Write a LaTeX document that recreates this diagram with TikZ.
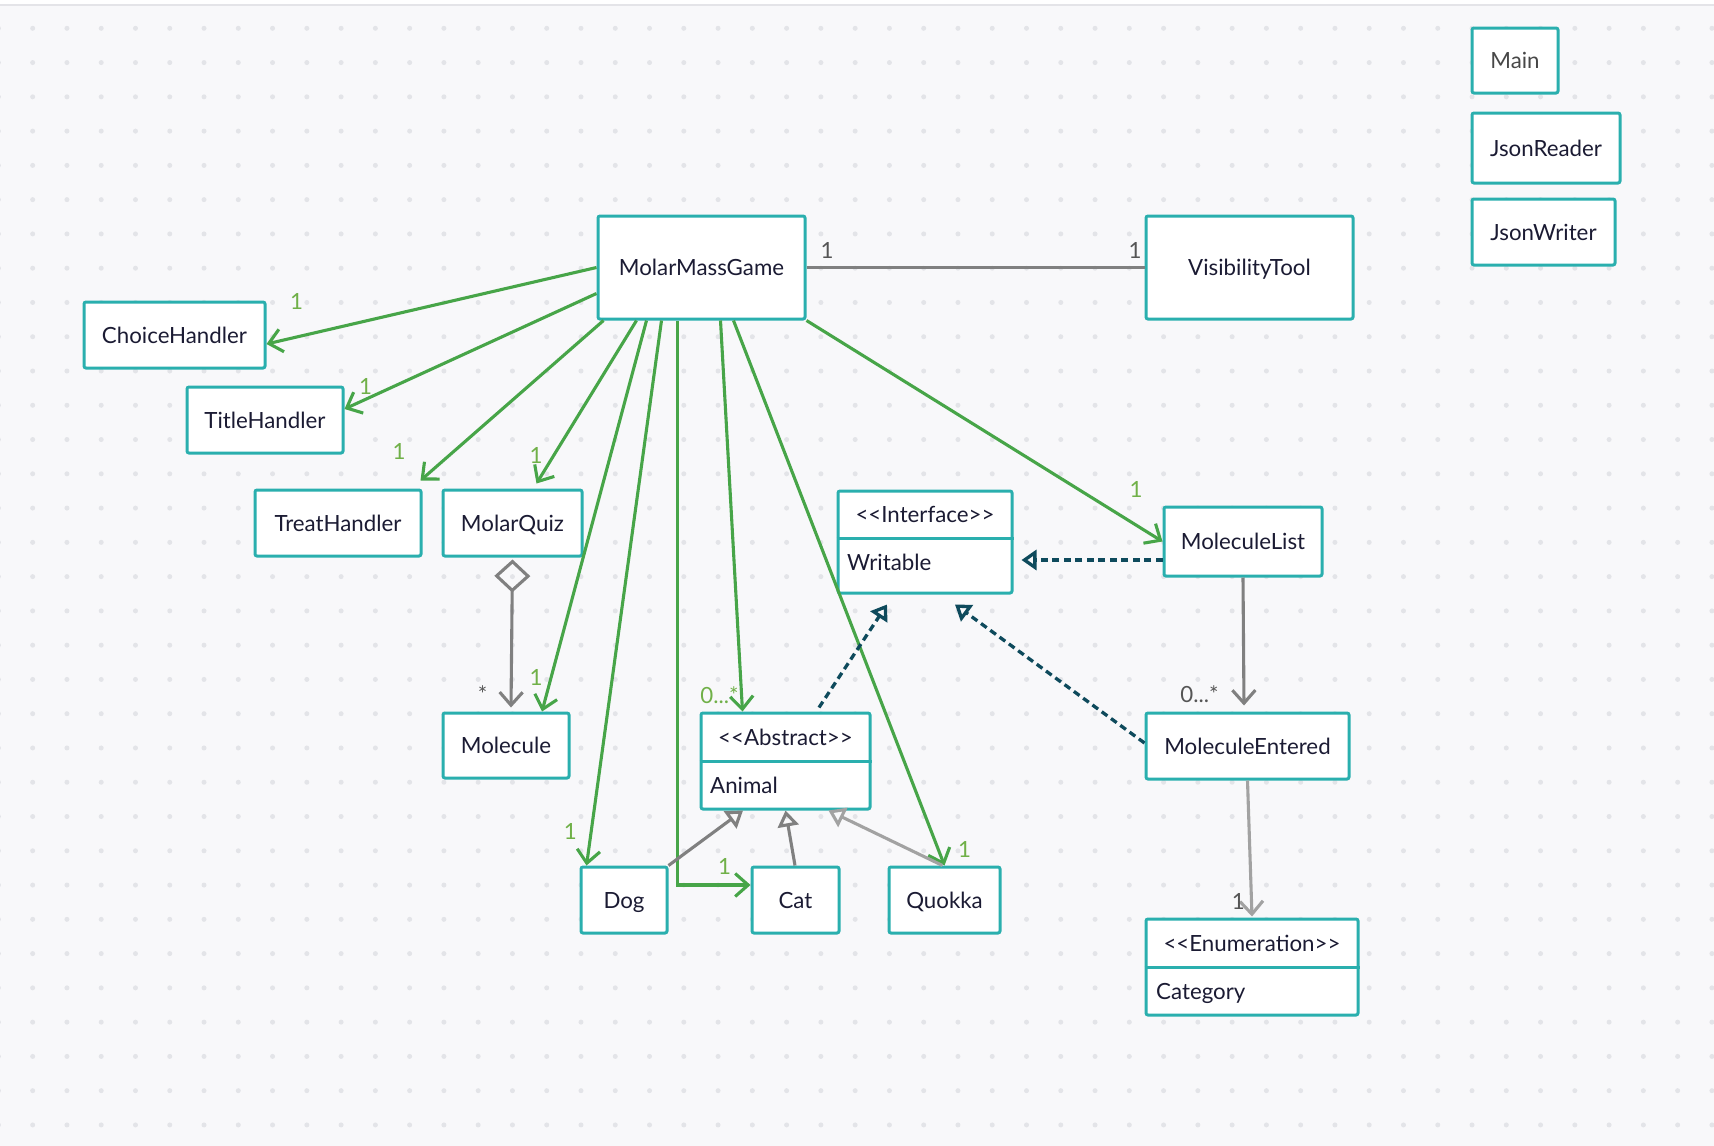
\documentclass[tikz,border=0pt]{standalone}
\usepackage{fontspec}
\setmainfont{Lato}
\usetikzlibrary{arrows.meta}

\definecolor{canvasbg}{HTML}{F8F8FA}
\definecolor{gridmark}{HTML}{E3E4E8}
\definecolor{rulegray}{HTML}{E4E4E8}
\definecolor{boxedge}{HTML}{2AAFAE}
\definecolor{ink}{HTML}{1B1B33}
\definecolor{mainink}{HTML}{474747}
\definecolor{depgreen}{HTML}{47A548}
\definecolor{multgreen}{HTML}{70B048}
\definecolor{linkgray}{HTML}{808080}
\definecolor{linklight}{HTML}{A2A2A2}
\definecolor{labelgray}{HTML}{555555}
\definecolor{realblue}{HTML}{0E4A5C}

\begin{document}
\begin{tikzpicture}[x=1pt,y=-1pt,
  every node/.style={font=\fontsize{22.3pt}{26pt}\selectfont, inner sep=0pt,
    text height=16pt, text depth=0pt},
  cls/.style={draw=boxedge, fill=white, line width=3pt, rounded corners=2pt, text=ink},
  divider/.style={draw=boxedge, line width=3pt},
  txt/.style={text=ink},
  mult/.style={text=multgreen},
  multgray/.style={text=labelgray},
  barb/.tip={Straight Barb[length=13pt,width=23pt]},
  dep/.style={draw=depgreen, line width=3.1pt, -barb},
  assoc/.style={draw=linkgray, line width=3.1pt},
  assocl/.style={draw=linklight, line width=3.1pt},
  gen/.style={draw=linkgray, line width=3.1pt, -{Triangle[open,length=16pt,width=21pt]}},
  genl/.style={draw=linklight, line width=3.1pt, -{Triangle[open,length=16pt,width=21pt]}},
  real/.style={draw=realblue, line width=3.3pt, dash pattern=on 7pt off 4.5pt,
    -{Triangle[open,length=15pt,width=20pt]}}
]
\useasboundingbox (0,0) rectangle (1714,1146);

% canvas and dotted grid
\fill[white] (0,0) rectangle (1714,6);
\fill[canvasbg] (0,6) rectangle (1714,1146);
\draw[rulegray, line width=2pt] (0,5) -- (1714,5);
\foreach \i in {0,...,50}
  \foreach \j in {0,...,32}
    \fill[gridmark] ({-1.6+\i*34.27},{28.3+\j*34.27}) circle (2.5pt);

% classes
\node[cls, minimum width=86pt,  minimum height=65pt]  (main)     at (1515,60.5)   {\textcolor{mainink}{Main}};
\node[cls, minimum width=148pt, minimum height=70pt]  (jreader)  at (1546,148)    {JsonReader};
\node[cls, minimum width=143pt, minimum height=66pt]  (jwriter)  at (1543.5,232)  {JsonWriter};
\node[cls, minimum width=207pt, minimum height=103pt] (mmg)      at (701.5,267.5) {MolarMassGame};
\node[cls, minimum width=207pt, minimum height=103pt] (vis)      at (1249.5,267.5){VisibilityTool};
\node[cls, minimum width=181pt, minimum height=66pt]  (choice)   at (174.5,335)   {ChoiceHandler};
\node[cls, minimum width=156pt, minimum height=66pt]  (title)    at (265,420)     {TitleHandler};
\node[cls, minimum width=166pt, minimum height=66pt]  (treat)    at (338,523)     {TreatHandler};
\node[cls, minimum width=139pt, minimum height=66pt]  (quiz)     at (512.5,523)   {MolarQuiz};
\node[cls, minimum width=158pt, minimum height=69pt]  (mlist)    at (1243,541.5)  {MoleculeList};
\node[cls, minimum width=126pt, minimum height=65pt]  (molecule) at (506,745.5)   {Molecule};
\node[cls, minimum width=203pt, minimum height=66pt]  (mentered) at (1247.5,746)  {MoleculeEntered};
\node[cls, minimum width=86pt,  minimum height=66pt]  (dog)      at (624,900)     {Dog};
\node[cls, minimum width=87pt,  minimum height=66pt]  (cat)      at (795.5,900)   {Cat};
\node[cls, minimum width=111pt, minimum height=66pt]  (quokka)   at (944.5,900)   {Quokka};

% classes with a stereotype compartment
\node[cls, minimum width=174pt, minimum height=102pt] (writable) at (925,542) {};
\draw[divider] ([yshift=4pt]writable.west) -- ([yshift=4pt]writable.east);
\node[txt] (writable-st) at (925,514.5) {{<}{<}Interface{>}{>}};
\node[txt, anchor=west] (writable-nm) at (847,562.5) {Writable};

\node[cls, minimum width=169pt, minimum height=96pt] (animal) at (785.5,761) {};
\draw[divider] (animal.west) -- (animal.east);
\node[txt] (animal-st) at (785.5,737) {{<}{<}Abstract{>}{>}};
\node[txt, anchor=west] (animal-nm) at (710,785) {Animal};

\node[cls, minimum width=212pt, minimum height=96pt] (category) at (1252,967) {};
\draw[divider] (category.west) -- (category.east);
\node[txt] (category-st) at (1252,943) {{<}{<}Enumeration{>}{>}};
\node[txt, anchor=west] (category-nm) at (1156,991) {Category};

% associations held by MolarMassGame
\draw[dep] (mmg.west) -- ([yshift=-9pt]choice.east);
\draw[dep] ([yshift=-26pt]mmg.west) -- ([yshift=11pt]title.east);
\draw[dep] ([xshift=7pt]mmg.south west) -- ([xshift=-2pt,yshift=8pt]treat.north east);
\draw[dep] ([xshift=40pt]mmg.south west) -- ([xshift=24pt,yshift=5pt]quiz.north);
\draw[dep] ([xshift=50pt]mmg.south west) -- ([xshift=36pt]molecule.north);
\draw[dep] ([xshift=65pt]mmg.south west) -- ([xshift=7pt]dog.north west);
\draw[dep] ([xshift=81pt]mmg.south west) |- ([yshift=15pt]cat.west);
\draw[dep] ([xshift=124pt]mmg.south west) -- ([xshift=43pt]animal.north west);
\draw[dep] ([xshift=137pt]mmg.south west) -- (quokka.north);
\draw[dep] (mmg.south east) -- (mlist.west);

% other associations
\draw[assoc] (mmg.east) -- (vis.west);
\draw[assoc, {Diamond[open,length=33pt,width=36pt]}-barb]
  ([yshift=-2pt]quiz.south) -- ([xshift=5pt,yshift=4pt]molecule.north);
\draw[assoc, -barb] (mlist.south) -- ([xshift=-3.5pt,yshift=6pt]mentered.north);
\draw[assocl, -barb] (mentered.south) -- ([yshift=1pt]category.north);

% generalisations
\draw[gen] (dog.north east) -- ([xshift=-42.5pt]animal.south);
\draw[gen] ([xshift=-0.5pt]cat.north) -- (animal.south);
\draw[genl] ([xshift=-2pt]quokka.north) -- ([xshift=43pt]animal.south);

% realisations of Writable
\draw[real] ([xshift=33.5pt,yshift=4pt]animal.north) -- ([xshift=-38pt,yshift=-10pt]writable.south);
\draw[real] ([yshift=3pt]mentered.west) -- ([xshift=30pt,yshift=-10pt]writable.south);
\draw[real] ([yshift=-18.5pt]mlist.west) -- ([xshift=8pt,yshift=-18pt]writable.east);

% multiplicities
\node[mult] (m-choice)   at (296.6,301.7) {1};
\node[mult] (m-title)    at (365.5,386.7) {1};
\node[mult] (m-treat)    at (399,451.7)   {1};
\node[mult] (m-quiz)     at (536,455)     {1};
\node[mult] (m-molecule) at (536,677.7)   {1};
\node[mult] (m-dog)      at (570.3,831.7) {1};
\node[mult] (m-cat)      at (724.5,866.7) {1};
\node[mult] (m-animal)   at (719.5,695)   {0...*};
\node[mult] (m-quokka)   at (964.5,849.3) {1};
\node[mult] (m-mlist)    at (1136,489.3)  {1};

\node[multgray] (g-mmg)      at (827,250)     {1};
\node[multgray] (g-vis)      at (1135,250)    {1};
\node[multgray] (g-molecule) at (482.7,694)   {*};
\node[multgray] (g-mentered) at (1199.5,694.7){0...*};
\node[multgray] (g-category) at (1238.3,901)  {1};
\end{tikzpicture}
\end{document}
